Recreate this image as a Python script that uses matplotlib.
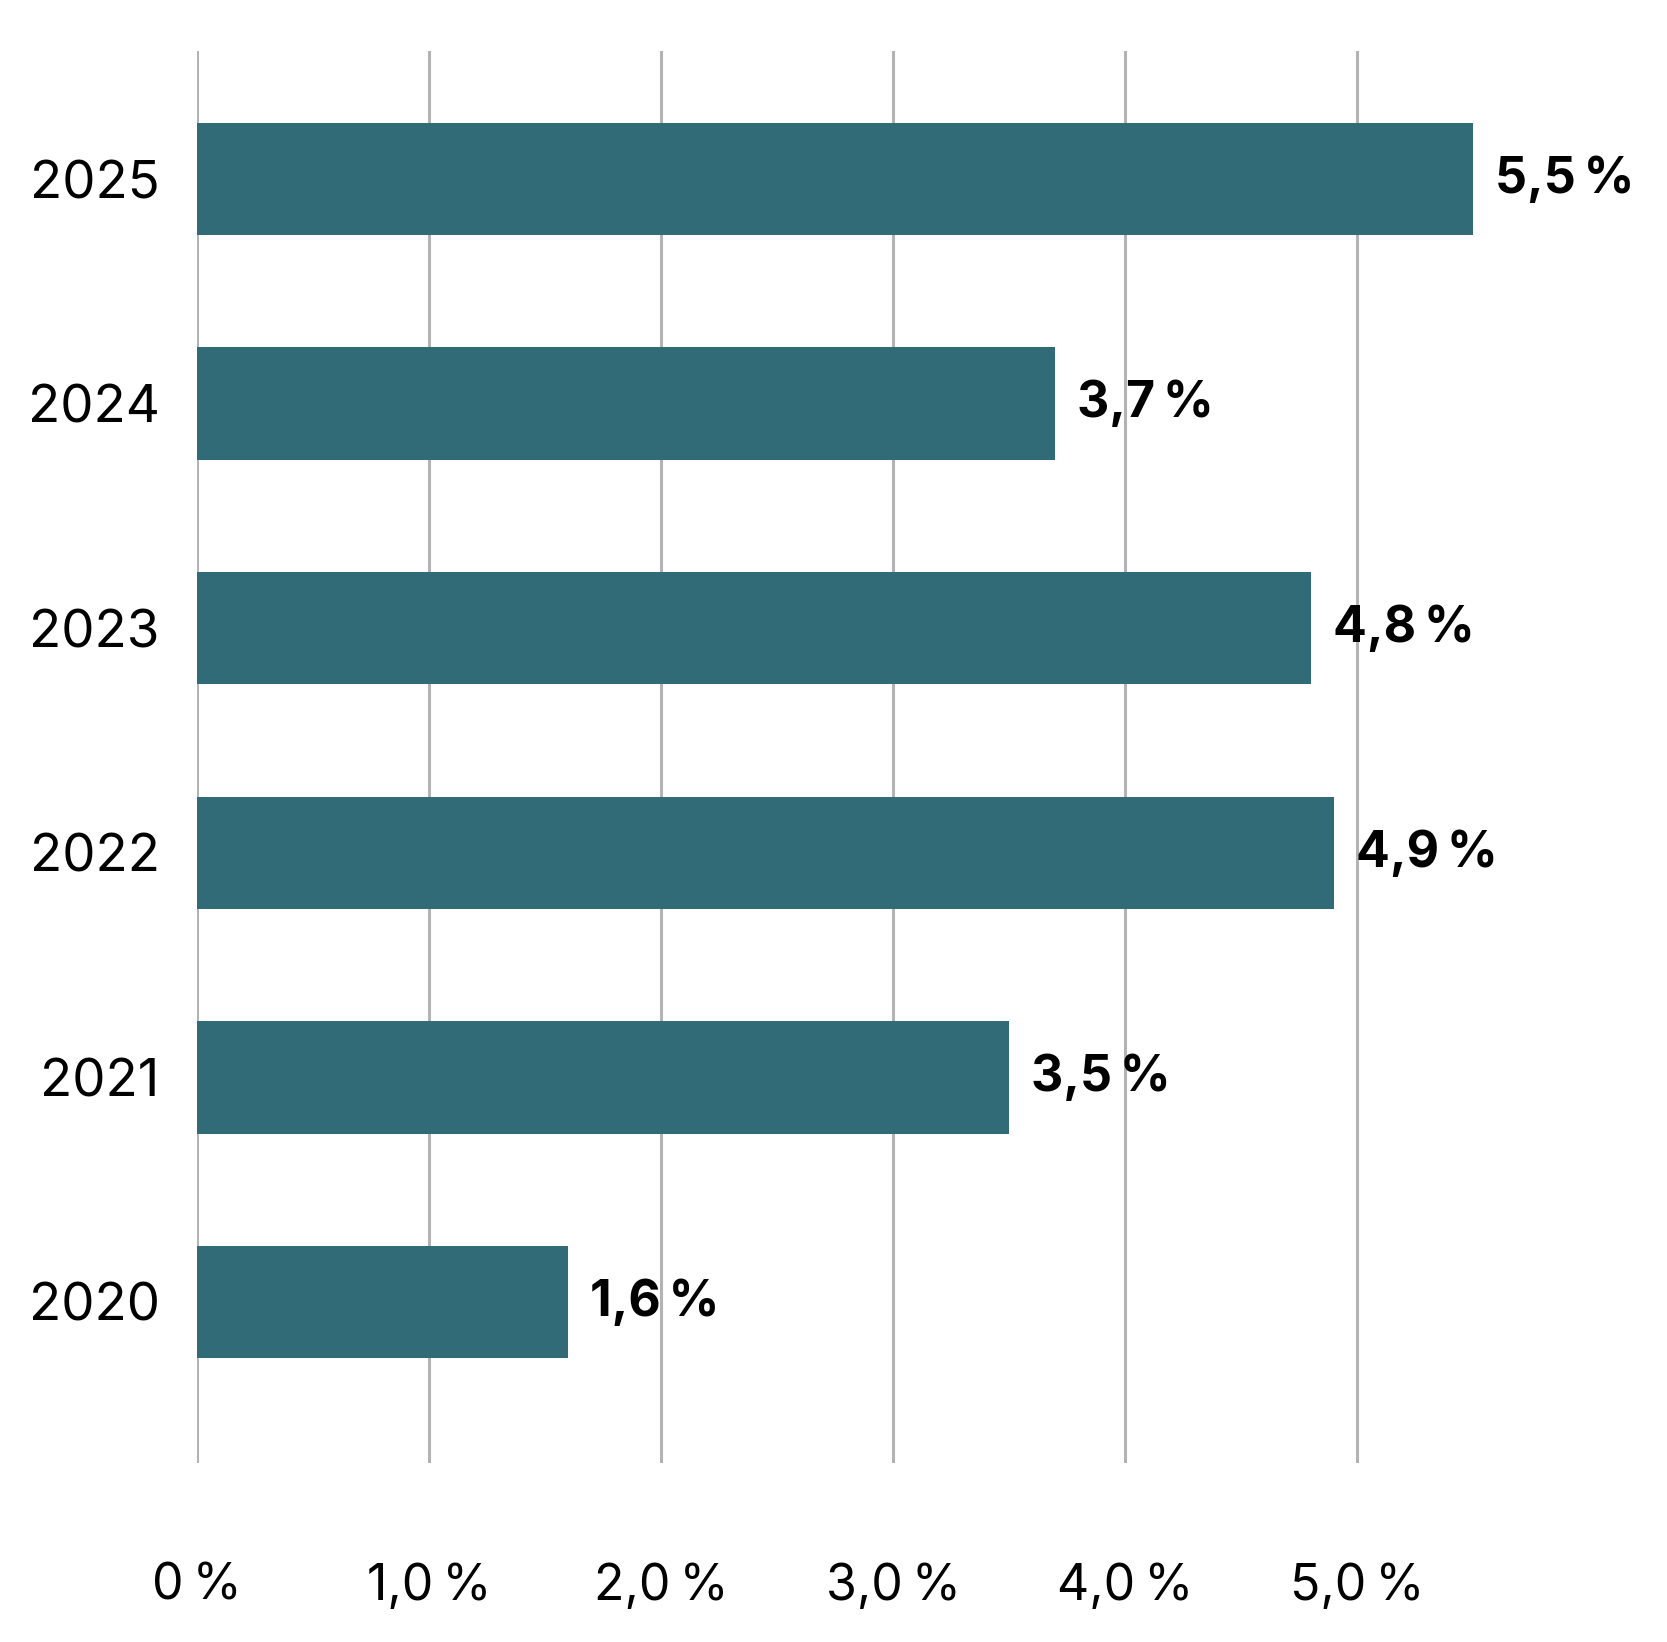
import matplotlib
matplotlib.use("Agg")
import matplotlib.pyplot as plt

years = ["2020", "2021", "2022", "2023", "2024", "2025"]
values = [1.6, 3.5, 4.9, 4.8, 3.7, 5.5]
value_labels = ["1,6\u2009%", "3,5\u2009%", "4,9\u2009%", "4,8\u2009%", "3,7\u2009%", "5,5\u2009%"]
xticks = [0, 1, 2, 3, 4, 5]
xtick_labels = ["0\u2009%", "1,0\u2009%", "2,0\u2009%", "3,0\u2009%", "4,0\u2009%", "5,0\u2009%"]

plt.rcParams['font.family'] = ['Inter', 'DejaVu Sans']

W, H = 1667, 1642
fig = plt.figure(figsize=(W / 100, H / 100), dpi=100)
left, right = 197, 1589
top, bottom = 51, 1463
ax = fig.add_axes([left / W, 1 - bottom / H, (right - left) / W, (bottom - top) / H])

color = "#316B78"
ypos = list(range(len(years)))
ax.barh(ypos, values, height=0.5, color=color, zorder=3)
for y, v, lab in zip(ypos, values, value_labels):
    ax.text(v + 0.095, y, lab, va="center", ha="left", fontsize=36,
            fontweight="bold", color="#000000")

ax.set_xlim(0, 6)
ax.set_ylim(-0.717, 5.57)
ax.set_xticks(xticks)
ax.set_xticklabels(xtick_labels, fontsize=36, color="#000000")
ax.set_yticks(ypos)
ax.set_yticklabels(years, fontsize=38, color="#000000")
ax.tick_params(axis="x", length=0, pad=72)
ax.tick_params(axis="y", length=0, pad=27)
ax.grid(axis="x", color="#B3B3B3", linewidth=2.2, zorder=0)
ax.grid(axis="y", visible=False)
for s in ax.spines.values():
    s.set_visible(False)

fig.savefig("out.png", dpi=100, facecolor="white")
